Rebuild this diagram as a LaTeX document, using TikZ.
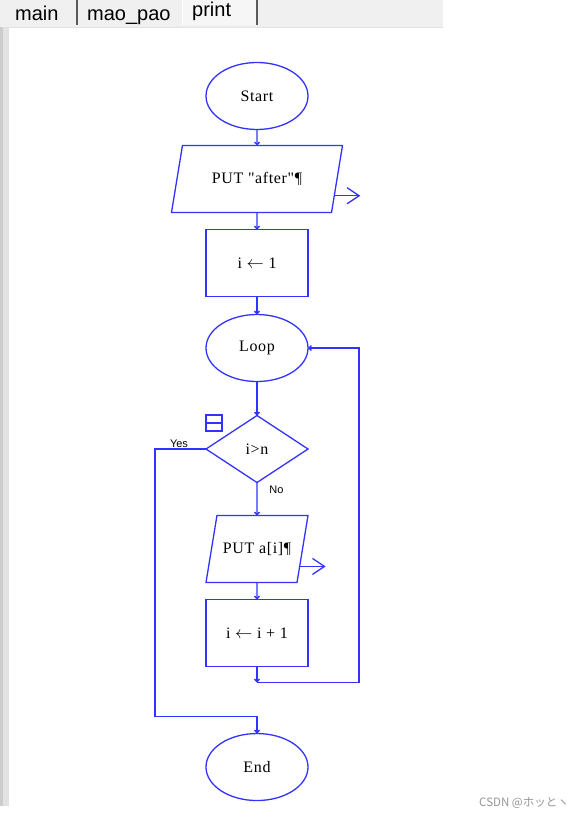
\documentclass[tikz,border=0pt]{standalone}
\usepackage{fontspec}
\newfontfamily\flowfont{Liberation Serif}[LetterSpace=4]
\newfontfamily\uifont{Liberation Sans}
\newfontfamily\cjkfont{Noto Sans CJK JP}
\usetikzlibrary{arrows.meta,positioning,shapes.geometric,calc}
\definecolor{flowblue}  {RGB}{ 51, 51,255}
\definecolor{tabgray}   {RGB}{240,240,240}
\definecolor{tablight}  {RGB}{246,246,246}
\definecolor{tabsep}    {RGB}{ 90, 90, 90}
\definecolor{stripgray} {RGB}{226,226,226}
\definecolor{stripdark} {RGB}{204,204,204}
\definecolor{marktext}  {RGB}{150,150,150}

\begin{document}
\begin{tikzpicture}[
    x=1pt, y=-1pt,
    shapebox/.style={draw=flowblue, line width=1.3pt, font=\flowfont\fontsize{16}{19}\selectfont, inner sep=2pt, outer sep=0pt},
    term/.style={shapebox, ellipse, minimum width=102pt, minimum height=67pt},
    io/.style={shapebox, trapezium, trapezium left angle=80.7, trapezium right angle=99.3, trapezium stretches body,
        text height=11pt, text depth=3pt, inner ysep=26.5pt},
    proc/.style={shapebox, rectangle, minimum width=102pt, minimum height=67pt},
    decision/.style={shapebox, diamond, minimum width=102pt, minimum height=67pt, inner sep=0pt},
    flow/.style={draw=flowblue, line width=1.3pt, -{Straight Barb[length=2.5pt,width=5pt]}},
    output/.style={draw=flowblue, line width=1.3pt, -{Straight Barb[length=12pt,width=16pt]}},
    lbl/.style={font=\uifont\fontsize{11}{13}\selectfont, inner sep=1pt},
    tabtext/.style={font=\uifont\fontsize{20}{24}\selectfont, inner sep=0pt, anchor=base west}
]
    \useasboundingbox (0,0) rectangle (582,818);
    \fill[white] (0,0) rectangle (582,818);

    % Editor chrome (tab bar and left gutter)
    \fill[tabgray] (0,0) rectangle (443,27);
    \fill[tablight] (182,0) rectangle (256,25);
    \draw[white, line width=1pt] (182,0) -- (182,25);
    \draw[tabsep, line width=1.5pt] (77,0) -- (77,25);
    \draw[tabsep, line width=1.5pt] (257,0) -- (257,25);
    \draw[stripgray, line width=1pt] (9,28) -- (443,28);
    \fill[stripgray] (0,27) rectangle (9,806);
    \fill[stripdark] (0,27) rectangle (3,806);
    \node[tabtext] (tabmain) at (15,21) {main};
    \node[tabtext] (tabsort) at (87,21) {mao\_pao};
    \node[tabtext] (tabprint) at (192,17) {print};

    % Flow nodes (one column, top to bottom)
    \node[term] (start) at (257,96) {Start};
    \node[io, minimum width=171pt] (puthdr) [below=16pt of start] {PUT "after"¶};
    \node[proc] (init) [below=17pt of puthdr] {i $\leftarrow$ 1};
    \node[term] (loop) [below=18pt of init] {Loop};
    \node[decision] (check) [below=34pt of loop] {i>n};
    \node[io, minimum width=102pt] (putitem) [below=33pt of check] {PUT a[i]¶};
    \node[proc] (incr) [below=17pt of putitem] {i $\leftarrow$ i + 1};
    \node[term] (stop) [below=67pt of incr] {End};

    % Collapse box beside the decision
    \node[draw=flowblue, line width=1.3pt, minimum size=16pt, inner sep=0pt] (fold) at (214,423) {};
    \draw[flowblue, line width=1.3pt] (fold.west) -- (fold.east);

    % Connections
    \draw[flow] (start) -- (puthdr);
    \draw[flow] (puthdr) -- (init);
    \draw[flow] (init) -- (loop);
    \draw[flow] (loop) -- (check);
    \draw[flow] (check) -- (putitem);
    \draw[flow] (putitem) -- (incr);

    % Loop back to the loop head
    \coordinate[below=16pt of incr] (backjoin);
    \coordinate (backturn) at ([xshift=51pt]loop.east);
    \draw[flow] (incr) -- (backjoin);
    \draw[flow] (backjoin) -| (backturn) -- (loop.east);

    % Exit branch
    \coordinate[above=17pt of stop] (yesjoin);
    \draw[flow] (check.west) -| ([xshift=-102pt]yesjoin) -- (yesjoin) -- (stop.north);
    \node[lbl, above] (yeslbl) at ([xshift=-27pt]check.west) {Yes};
    \node[lbl] (nolbl) at ([xshift=19.5pt,yshift=-7pt]check.south) {No};

    % Output arrows
    \draw[output] ($(puthdr.bottom right corner)!0.25!(puthdr.top right corner)$) -- ++(26,0);
    \draw[output] ($(putitem.bottom right corner)!0.24!(putitem.top right corner)$) -- ++(26,0);

    % Watermark
    \node[font=\cjkfont\fontsize{11.5}{13}\selectfont, text=marktext] (mark) at (524,803) {CSDN @ホッとヽ};
\end{tikzpicture}
\end{document}
